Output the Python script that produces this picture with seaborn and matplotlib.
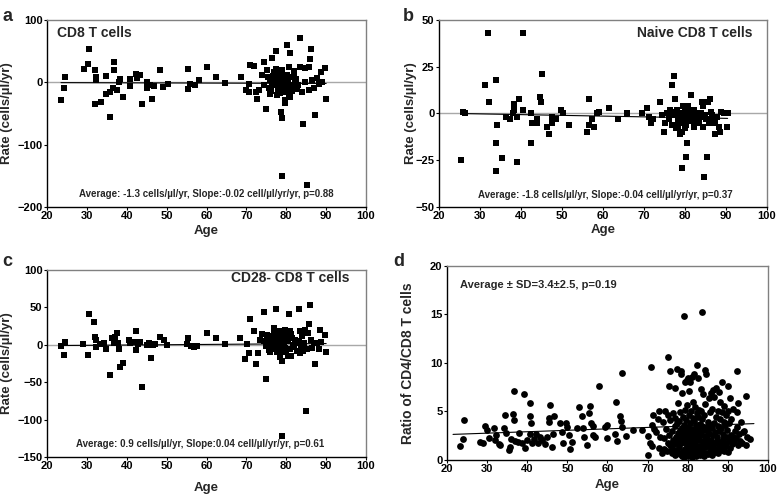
import numpy as np
import pandas as pd
import matplotlib
matplotlib.use("Agg")
import matplotlib.pyplot as plt
import seaborn as sns

# (age, rate) pairs
cd8_pts = [
    (23.6, -29), (24.2, -9), (24.4, 8), (29.2, 22), (30.3, 29), (30.5, 53), (32.0, 19), (32.3, 9),
    (32.2, 4), (32.1, -35), (33.6, -31), (34.9, 10), (34.9, -19), (35.7, -55), (35.9, -15), (36.6, -9),
    (36.7, 33), (36.7, 20), (37.6, -12), (38.0, 1), (38.4, 6), (39.0, -23), (40.9, 5), (40.9, -6),
    (42.2, 13), (42.6, 7), (43.4, 12), (43.8, -35), (45.0, 1), (45.0, -9), (45.9, -4), (46.3, -27),
    (46.8, -6), (48.4, 20), (49.0, -8), (50.4, -2), (55.4, 21), (55.4, -10), (55.8, -3), (57.0, -4),
    (58.2, 3), (60.1, 24), (62.5, 9), (64.7, -1), (68.7, 8), (70.0, -13), (70.6, -3), (70.6, -15),
    (71.0, 28), (72.0, 26), (72.3, -15), (72.7, -27), (73.1, -12), (73.9, 12), (74.3, 33), (75.0, -43),
    (75.2, 20), (75.6, -9), (76.0, 4), (76.4, 39), (76.7, 10), (77.3, 51), (77.3, 22), (77.5, -1),
    (78.1, 15), (78.1, -9), (78.5, -17), (78.7, -47), (78.9, -58), (78.9, -150), (79.3, 4), (79.8, -28),
    (79.8, -33), (80.0, -6), (80.2, 60), (80.6, 25), (80.9, 47), (81.0, -23), (81.5, -4), (81.9, 12),
    (82.3, 1), (82.7, -11), (83.5, 71), (83.5, 25), (84.0, -15), (84.2, -67), (84.6, 1), (84.8, 23),
    (85.2, -164), (85.6, -12), (85.6, 25), (85.9, 37), (86.1, 53), (86.5, 4), (86.9, -9), (87.3, -52),
    (87.7, 7), (88.1, -3), (88.6, 17), (89.0, 1), (89.8, 23), (90.0, -27),
    (74.5, -5), (75.5, 8), (76.2, -14), (76.8, 16), (77.0, -4), (77.2, 6), (77.8, -12), (78.0, 3),
    (78.3, 10), (78.6, -2), (79.0, 14), (79.1, -8), (79.5, -15), (79.7, 7), (80.3, -12), (80.5, 2),
    (80.8, -20), (81.2, 9), (81.7, -8), (82.0, 18), (76.5, 0), (77.6, -20), (78.8, 20), (80.1, 12),
    (75.8, -18), (81.4, -14), (83.0, -5), (82.5, 5), (77.9, -7), (79.3, -3),
]

naive_pts = [
    (25.3, -25), (25.9, 1), (26.3, 0.5), (31.1, 15), (32.0, 43), (32.3, 6), (33.9, 18), (33.9, -16),
    (33.9, -31), (34.2, -6), (35.3, -24), (36.4, -2), (37.4, -3), (38.1, 0), (38.3, 5), (38.4, 2),
    (39.0, -2), (39.1, -26), (39.6, 8), (40.4, 43), (40.6, 2), (42.5, 0), (42.4, -16), (42.6, -5),
    (43.8, -3), (44.0, -5), (44.6, 9), (44.8, 6), (45.2, 21), (46.4, -7), (46.9, -11), (47.5, -2),
    (47.6, -5), (48.5, -3), (49.7, 2), (50.3, 0), (51.6, -6), (56.2, -10), (56.5, -6), (56.7, 8),
    (57.3, -3), (57.8, -7), (58.5, 0), (59.1, 1), (61.5, 3), (63.6, -3), (65.8, 0), (69.5, 0),
    (70.7, 3), (71.3, -2), (71.7, -5), (72.3, -3), (73.8, 6), (74.4, -1), (74.9, -10), (75.2, -5),
    (76.0, -2), (76.4, 2), (76.8, 15), (77.4, 20), (77.6, 8), (77.9, -1), (78.2, -4), (78.4, -7),
    (78.8, -11), (79.2, -10), (79.2, -29), (79.5, 4), (79.6, 0), (79.8, -4), (80.2, -23), (80.5, -16),
    (80.7, -2), (80.9, 2), (81.3, -3), (81.5, 10), (81.7, -1), (82.1, -7), (82.5, 0), (83.0, -4),
    (83.7, -2), (84.1, 6), (84.3, 4), (84.5, -7), (84.6, -34), (85.2, -3), (85.3, -23), (85.5, 6),
    (86.0, 8), (86.1, -3), (86.6, -1), (87.0, -2), (87.4, -11), (87.8, -2), (88.2, -7), (88.6, -10),
    (88.8, 1), (89.4, 0), (90.2, -7), (90.4, 0),
    (75.5, 0), (76.2, -3), (76.8, -6), (77.1, 1), (77.7, -8), (78.0, 2), (78.6, -1), (79.0, -5),
    (79.4, -2), (80.0, 1), (80.3, -6), (81.0, -1), (81.8, -4), (82.3, 2), (82.8, -2), (83.3, -5),
    (83.9, 0), (85.0, -1), (85.8, -5), (86.3, 1), (87.2, -5), (78.3, 0), (79.9, -8), (80.8, 4),
    (76.5, -1),
]

cd28_pts = [
    (23.5, -2), (24.2, -13), (24.4, 4), (29.0, 1), (30.2, -13), (30.5, 41), (31.9, 31), (32.1, 10),
    (32.3, -3), (32.4, 7), (33.2, 1), (34.2, 2), (34.9, -6), (35.9, -40), (36.3, 9), (36.7, 3),
    (37.1, 11), (37.6, 16), (37.7, 2), (38.0, -6), (38.4, -30), (39.1, -24), (40.5, 7), (40.7, 2),
    (41.7, 4), (42.2, 18), (42.4, -7), (42.7, 1), (43.2, 4), (43.8, -56), (45.0, 0), (45.5, 2),
    (46.1, -18), (46.6, 0), (47.0, 1), (48.3, 10), (49.3, 6), (50.1, 0), (55.0, 1), (55.4, 9),
    (56.0, -1), (56.8, -3), (57.6, -1), (60.1, 16), (62.5, 9), (64.7, 1), (68.5, 9), (69.7, -19),
    (70.2, 1), (70.6, -11), (70.8, 34), (71.8, 18), (72.5, -26), (73.0, -11), (73.3, 7), (73.9, 15),
    (74.3, 44), (74.8, -46), (74.8, -2), (75.2, 13), (75.6, -7), (76.0, 7), (76.4, 0), (76.9, 22),
    (77.3, 48), (77.5, 10), (77.9, 0), (78.1, -7), (78.4, 18), (78.5, -16), (78.8, -22), (78.9, -122),
    (79.4, 4), (79.6, 20), (79.8, -4), (80.2, 9), (80.5, -15), (80.7, 41), (81.0, 18), (81.2, -15),
    (81.5, 9), (81.9, 0), (82.3, 7), (83.1, 48), (83.4, 18), (83.5, -11), (83.8, -2), (84.0, 12),
    (84.4, 2), (84.6, 20), (85.0, -88), (85.2, -6), (85.5, 16), (85.6, 28), (85.9, 53), (86.1, 7),
    (86.5, -4), (86.9, 3), (87.3, -26), (87.7, 2), (88.1, -5), (88.4, 20), (88.8, 4), (89.8, 13),
    (90.0, -10),
    (74.5, 5), (75.8, -2), (76.2, 12), (76.7, -5), (77.2, 3), (77.6, -10), (78.0, 8), (78.3, -3),
    (78.7, 12), (79.1, -8), (79.5, 0), (80.0, -10), (80.4, 5), (80.9, -5), (81.3, 14), (81.7, -3),
    (82.1, 3), (82.6, -8), (83.1, 5), (84.2, -8), (77.0, 14), (79.9, 15), (76.0, -10),
]

# (age, CD4/CD8 ratio) pairs
ratio_pts = [
    (23.3, 1.4), (23.9, 2.2), (24.2, 4.1), (28.3, 1.9), (28.9, 1.7), (29.4, 3.5), (30.0, 3.1), (30.4, 2.3),
    (31.6, 3.3), (32.0, 2.1), (32.1, 2.6), (32.9, 1.6), (33.3, 1.5), (34.3, 3.3), (34.5, 4.6), (34.8, 2.8),
    (35.4, 1.0), (35.6, 1.3), (36.0, 2.2), (36.6, 7.1), (36.4, 4.7), (36.6, 4.1), (37.0, 2.0), (37.6, 1.9),
    (38.0, 2.8), (39.1, 6.8), (38.7, 1.7), (39.4, 1.2), (40.0, 2.1), (40.8, 5.9), (40.8, 4.5), (40.9, 3.8),
    (40.6, 2.7), (41.2, 1.7), (41.8, 2.2), (42.3, 2.7), (42.8, 1.7), (43.3, 2.4), (43.7, 2.1), (44.3, 1.6),
    (44.9, 2.4), (45.3, 3.9), (45.4, 4.3), (45.7, 5.7), (46.4, 2.7), (46.7, 4.5), (46.2, 1.3), (48.2, 3.8),
    (48.6, 2.9), (49.0, 1.7), (49.7, 3.8), (50.0, 3.4), (50.3, 2.6), (50.7, 1.1), (51.1, 1.9), (52.4, 3.3),
    (53.0, 5.5), (53.6, 4.5), (53.9, 3.3), (54.2, 2.4), (54.9, 1.5), (55.3, 4.8), (55.7, 5.6), (55.9, 3.8),
    (56.4, 3.5), (56.5, 2.6), (57.0, 2.4), (57.8, 7.6), (59.5, 3.4), (59.8, 2.3), (59.9, 3.6), (61.9, 2.7),
    (62.3, 2.0), (62.1, 6.0), (63.5, 9.0), (63.2, 4.5), (63.4, 4.0), (63.5, 3.4), (64.6, 2.5), (66.4, 3.1),
    (68.5, 3.1), (70.2, 2.5), (70.6, 1.7), (71.0, 1.4), (70.0, 0.5), (70.8, 9.6), (71.0, 3.6), (71.3, 4.6),
    (71.5, 3.2), (72.2, 2.9), (72.6, 4.2), (72.9, 5.1), (73.0, 2.4), (72.8, 1.2), (73.5, 0.7),
    (74.0, 1.1), (74.2, 2.3), (73.8, 3.9), (74.4, 5.0), (74.8, 0.9), (75.0, 1.8), (74.6, 3.2), (75.1, 4.6),
    (75.5, 1.5), (75.3, 2.6), (75.7, 4.1), (75.4, 7.6), (75.6, 9.2), (75.0, 10.6),
    (76.2, 0.7), (76.0, 1.2), (76.4, 2.1), (76.1, 3.0), (76.3, 4.8),
    (76.8, 0.5), (76.6, 1.6), (77.0, 2.4), (76.9, 3.5), (76.7, 4.3), (76.8, 7.4),
    (77.4, 1.0), (77.2, 1.9), (77.6, 2.8), (77.3, 3.8), (77.5, 5.9), (77.4, 9.4),
    (78.0, 0.6), (77.8, 1.3), (78.2, 2.2), (78.1, 3.1), (77.9, 4.0), (78.0, 4.9), (78.3, 8.9),
    (78.5, 0.4), (78.7, 0.9), (78.4, 1.7), (78.6, 2.5), (78.5, 3.3), (78.8, 4.4), (78.6, 6.9), (78.4, 9.2),
    (79.0, 0.3), (79.2, 1.1), (78.9, 1.9), (79.1, 2.7), (79.0, 3.6), (79.3, 5.2), (79.2, 8.0), (79.1, 14.8),
    (79.5, 0.5), (79.7, 1.4), (79.4, 2.3), (79.6, 3.0), (79.5, 4.1), (79.8, 5.7), (79.7, 8.2),
    (80.0, 0.4), (80.2, 0.8), (79.9, 1.6), (80.1, 2.5), (80.0, 3.4), (80.3, 4.6), (80.2, 7.1), (80.1, 8.5),
    (80.5, 0.6), (80.7, 1.2), (80.4, 2.0), (80.6, 2.9), (80.5, 3.8), (80.8, 5.0), (80.6, 8.0),
    (81.0, 0.3), (81.2, 1.0), (80.9, 1.8), (81.1, 2.6), (81.0, 3.2), (81.3, 4.3), (81.2, 6.0), (81.1, 8.6),
    (81.5, 0.7), (81.7, 1.5), (81.4, 2.2), (81.6, 3.0), (81.5, 4.0), (81.8, 5.5), (81.6, 8.9),
    (82.0, 0.4), (82.2, 1.1), (81.9, 1.9), (82.1, 2.8), (82.0, 3.6), (82.3, 4.8), (82.2, 9.8),
    (82.5, 0.8), (82.7, 1.4), (82.4, 2.4), (82.6, 3.3), (82.5, 4.4), (82.8, 5.2), (82.6, 8.4),
    (83.0, 0.5), (83.2, 1.2), (82.9, 2.1), (83.1, 2.9), (83.0, 3.7), (83.3, 5.0), (83.2, 7.3),
    (83.5, 0.9), (83.7, 1.7), (83.4, 2.6), (83.6, 3.5), (83.5, 4.2), (83.8, 6.8), (83.6, 15.3),
    (84.0, 0.4), (84.2, 1.3), (83.9, 2.0), (84.1, 3.1), (84.0, 4.6), (84.3, 5.8), (84.2, 9.3),
    (84.5, 0.7), (84.7, 1.6), (84.4, 2.5), (84.6, 3.4), (84.5, 8.9),
    (85.0, 0.6), (85.2, 1.4), (84.9, 2.2), (85.1, 3.0), (85.0, 3.9), (85.3, 6.4),
    (85.5, 0.9), (85.7, 1.8), (85.4, 2.7), (85.6, 3.6), (85.5, 4.9), (85.8, 6.9),
    (86.0, 0.5), (86.2, 1.2), (85.9, 2.1), (86.1, 3.3), (86.0, 5.3), (86.3, 7.2),
    (86.5, 0.8), (86.7, 1.7), (86.4, 2.6), (86.6, 3.8), (86.5, 6.5),
    (87.0, 1.1), (87.2, 2.0), (86.9, 2.9), (87.1, 4.4), (87.0, 7.4),
    (87.5, 0.7), (87.7, 1.5), (87.4, 2.4), (87.6, 3.5), (87.5, 5.1), (87.8, 7.0),
    (88.0, 1.0), (88.2, 1.9), (87.9, 3.0), (88.1, 4.2), (88.0, 6.0),
    (88.5, 1.3), (88.7, 2.2), (88.4, 3.3), (88.6, 4.9), (88.5, 8.0),
    (89.0, 0.9), (89.2, 1.8), (88.9, 2.7), (89.1, 3.9), (89.0, 5.6),
    (89.5, 1.4), (89.7, 2.4), (89.4, 3.6), (89.6, 4.6),
    (90.0, 0.8), (90.2, 2.0), (89.9, 3.1), (90.1, 5.0), (90.0, 7.6),
    (90.5, 1.2), (90.7, 2.6), (90.4, 3.8), (90.6, 6.4),
    (91.0, 1.6), (91.2, 2.4), (90.9, 4.2), (91.5, 1.9), (91.7, 3.0), (91.4, 5.3),
    (92.0, 2.3), (92.2, 3.4), (92.4, 9.2), (92.5, 1.5), (92.7, 2.7), (92.4, 4.9), (92.6, 5.9),
    (93.0, 2.0), (93.2, 3.9), (93.5, 1.8), (93.7, 2.9), (94.0, 3.0), (94.4, 6.6),
    (94.5, 1.5), (94.8, 2.4), (95.5, 2.2),
]

# fitted lines: slope, intercept, age range
cd8_fit = (-0.02, 0.0, 23.5, 90.0)
naive_fit = (-0.04, 1.0, 25.3, 90.4)
cd28_fit = (0.04, -1.9, 23.5, 90.0)
ratio_fit = (0.0148, 2.32, 21.5, 96.5)

sns.set_style("ticks")
plt.rcParams['font.family'] = ['Liberation Sans', 'DejaVu Sans']
plt.rcParams['font.weight'] = 'bold'
plt.rcParams['axes.labelweight'] = 'bold'

fig = plt.figure(figsize=(7.77, 4.99), dpi=100)
ax_a = fig.add_axes([0.0605, 0.5852, 0.4106, 0.3747])
ax_b = fig.add_axes([0.565, 0.5852, 0.4221, 0.3747])
ax_c = fig.add_axes([0.0605, 0.0842, 0.4106, 0.3747])
ax_d = fig.add_axes([0.5753, 0.0782, 0.4131, 0.3888])


def style_axes(ax, ylim, yticks):
    ax.set_xlim(20, 100)
    ax.set_xticks(range(20, 101, 10))
    ax.set_ylim(*ylim)
    ax.set_yticks(yticks)
    for side in ['left', 'bottom']:
        ax.spines[side].set_color('black')
        ax.spines[side].set_linewidth(1.0)
    for side in ['top', 'right']:
        ax.spines[side].set_visible(True)
        ax.spines[side].set_color('#808080')
        ax.spines[side].set_linewidth(1.0)
    ax.tick_params(length=2, width=0.8, pad=1.2, labelsize=8, colors='black')
    for lab in ax.get_xticklabels() + ax.get_yticklabels():
        lab.set_fontweight('bold')


def draw_fit(ax, fit):
    slope, icpt, x0, x1 = fit
    fx = np.array([x0, x1])
    sns.lineplot(x=fx, y=icpt + slope * fx, color='black', linewidth=0.8, ax=ax, zorder=4)


def rate_panel(ax, pts, fit, ylim, yticks, title, tx, ty, tha, note, nx, ny):
    df = pd.DataFrame(pts, columns=['Age', 'Rate'])
    ax.axhline(0, color='#a8a8a8', linewidth=1.0, zorder=1)
    sns.scatterplot(data=df, x='Age', y='Rate', marker='s', s=22, color='black',
                    linewidth=0, ax=ax, zorder=3)
    draw_fit(ax, fit)
    style_axes(ax, ylim, yticks)
    ax.set_xlabel('Age', fontsize=9.5, fontweight='bold')
    ax.set_ylabel('Rate (cells/µl/yr)', fontsize=9.5, fontweight='bold')
    ax.text(tx, ty, title, transform=ax.transAxes, ha=tha, va='center',
            fontsize=10, fontweight='bold')
    ax.text(nx, ny, note, transform=ax.transAxes, ha='center', va='center',
            fontsize=7, fontweight='bold')


rate_panel(ax_a, cd8_pts, cd8_fit, (-200, 100), [-200, -100, 0, 100],
           'CD8 T cells', 0.03, 0.928, 'left',
           'Average: -1.3 cells/µl/yr, Slope:-0.02 cell/µl/yr/yr, p=0.88', 0.5, 0.07)
rate_panel(ax_b, naive_pts, naive_fit, (-50, 50), [-50, -25, 0, 25, 50],
           'Naive CD8 T cells', 0.957, 0.932, 'right',
           'Average: -1.8 cells/µl/yr, Slope:-0.04 cell/µl/yr/yr, p=0.37', 0.507, 0.064)
rate_panel(ax_c, cd28_pts, cd28_fit, (-150, 100), [-150, -100, -50, 0, 50, 100],
           'CD28- CD8 T cells', 0.948, 0.955, 'right',
           'Average: 0.9 cells/µl/yr, Slope:0.04 cell/µl/yr/yr, p=0.61', 0.48, 0.07)

df_d = pd.DataFrame(ratio_pts, columns=['Age', 'Ratio'])
sns.scatterplot(data=df_d, x='Age', y='Ratio', marker='o', s=24, color='black',
                linewidth=0, ax=ax_d, zorder=3)
draw_fit(ax_d, ratio_fit)
style_axes(ax_d, (0, 20), [0, 5, 10, 15, 20])
ax_d.set_xlabel('Age', fontsize=9.5, fontweight='bold')
ax_d.set_ylabel('Ratio of CD4/CD8 T cells', fontsize=10, fontweight='bold')
ax_d.text(0.04, 0.902, 'Average ± SD=3.4±2.5, p=0.19', transform=ax_d.transAxes,
          ha='left', va='center', fontsize=8, fontweight='bold')

ax_a.yaxis.set_label_coords(-0.107, 0.5)
ax_b.yaxis.set_label_coords(-0.068, 0.5)
ax_c.yaxis.set_label_coords(-0.107, 0.5)
ax_d.yaxis.set_label_coords(-0.10, 0.5)
ax_a.xaxis.set_label_coords(0.5, -0.095)
ax_b.xaxis.set_label_coords(0.5, -0.092)
ax_c.xaxis.set_label_coords(0.5, -0.135)
ax_d.xaxis.set_label_coords(0.5, -0.10)

for lbl, x, y in [('a', 0.003, 0.967), ('b', 0.518, 0.967), ('c', 0.003, 0.475), ('d', 0.506, 0.475)]:
    fig.text(x, y, lbl, fontsize=13, fontweight='bold', ha='left', va='center')

fig.savefig('out.png', dpi=100)
